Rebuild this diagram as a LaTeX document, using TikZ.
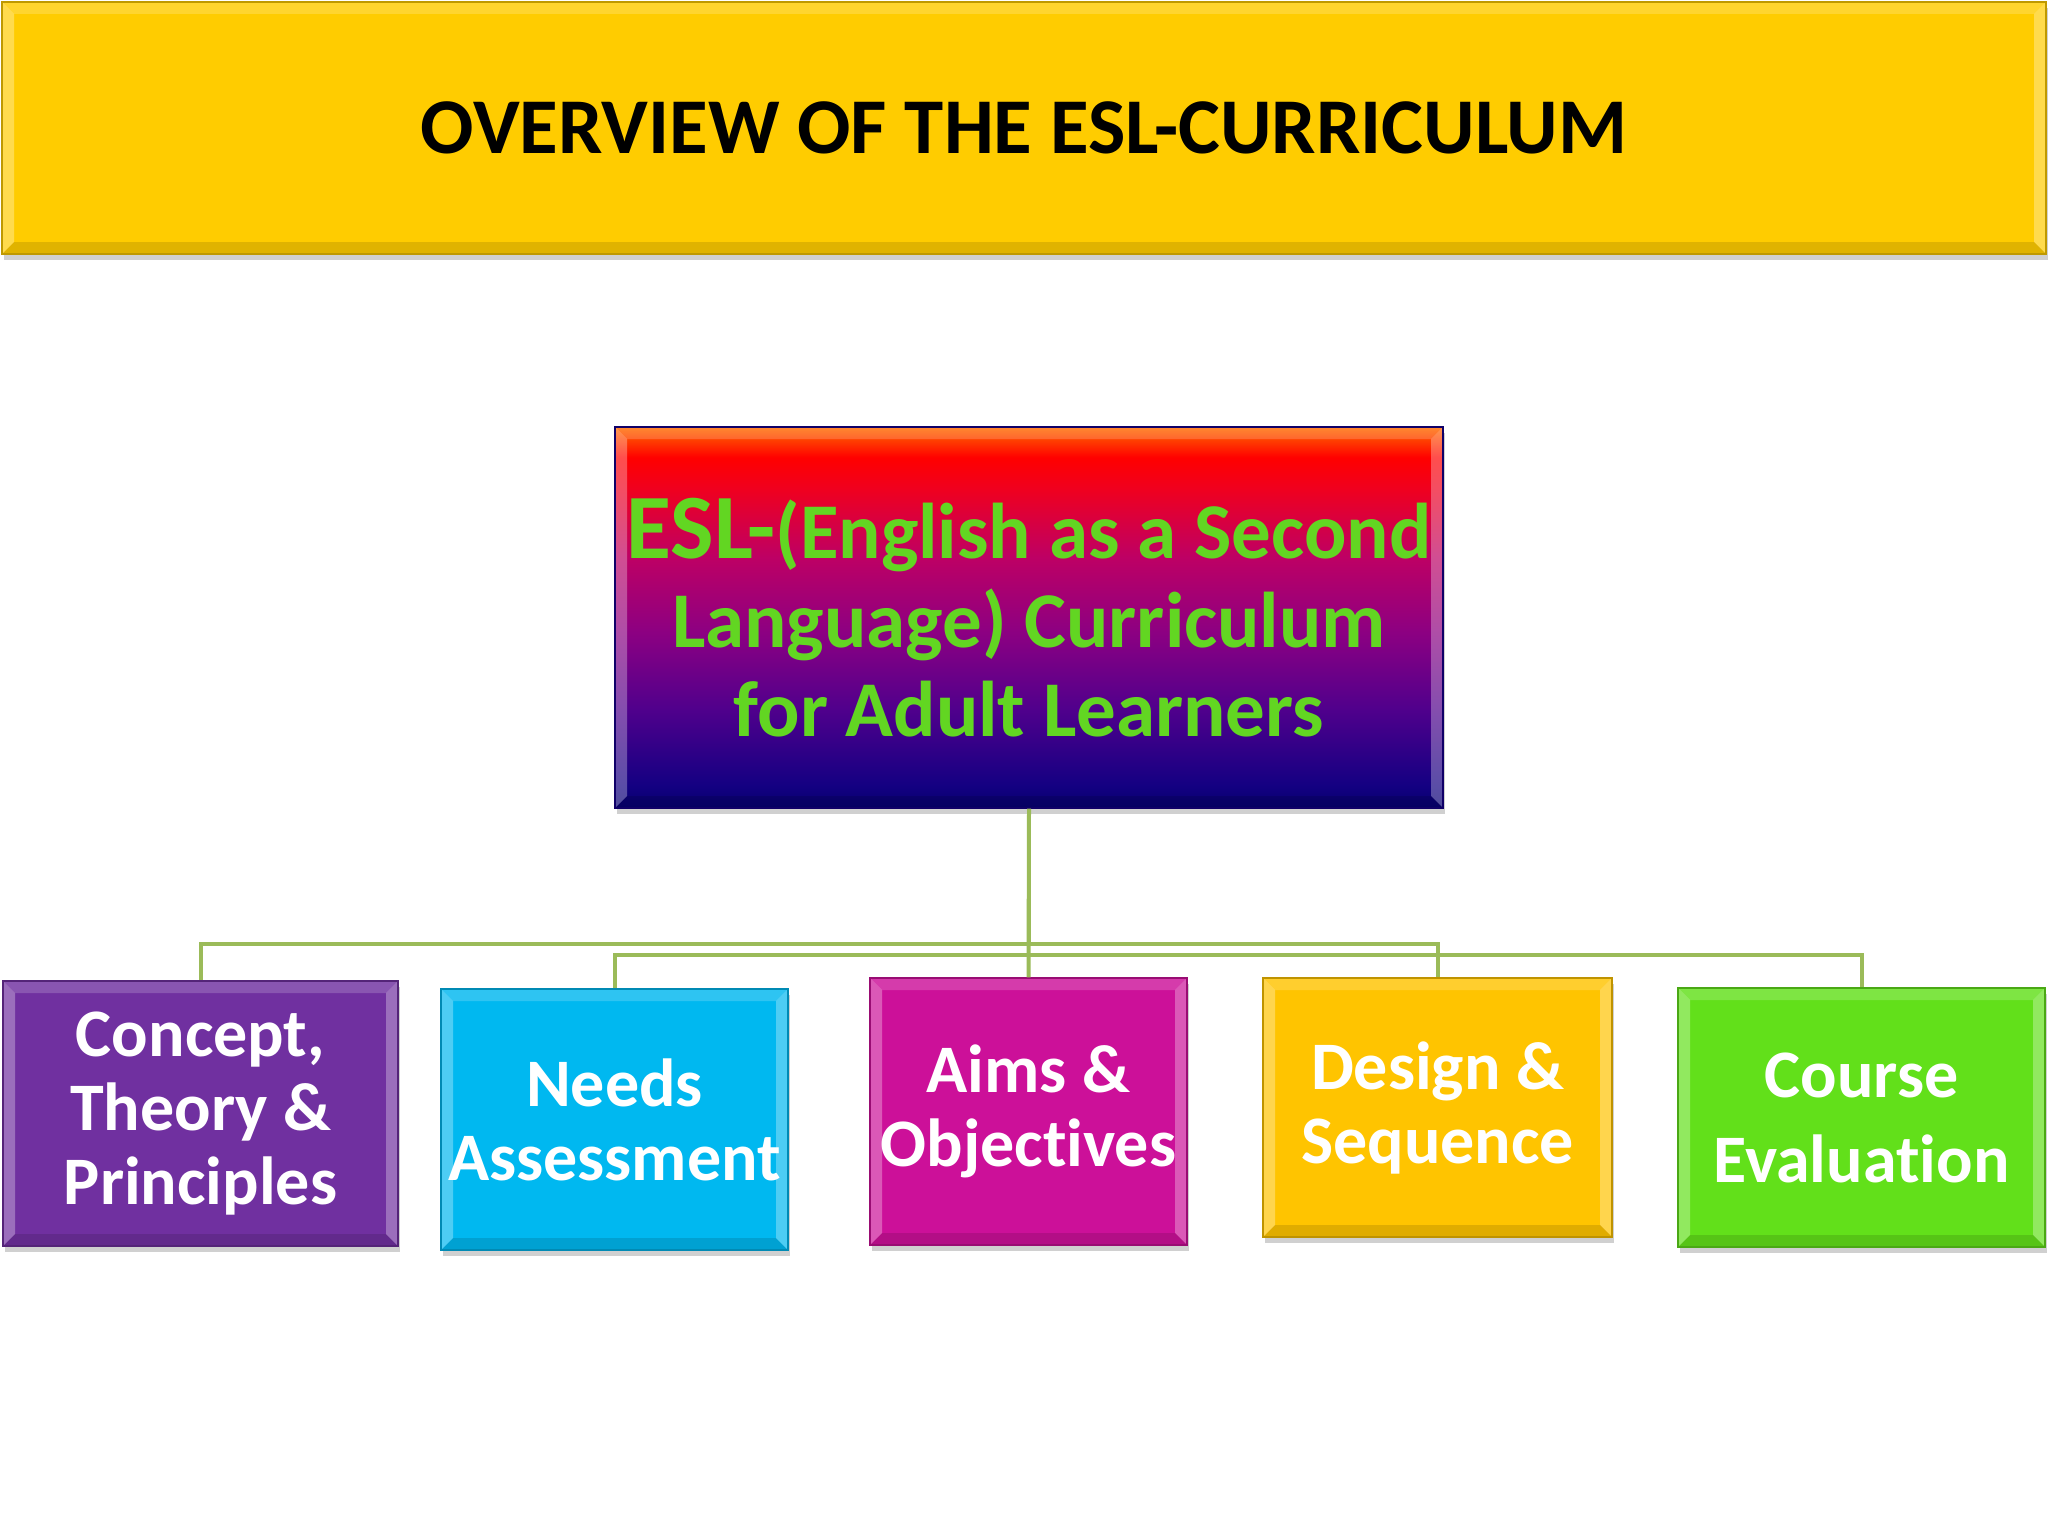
\documentclass[tikz,border=0pt]{standalone}
\usepackage{fontspec}
\setmainfont{Carlito}[RawFeature=-liga]
\usetikzlibrary{shadows}

\definecolor{bandgold}{RGB}{255,204,0}
\definecolor{conceptpurple}{RGB}{112,48,160}
\definecolor{needscyan}{RGB}{0,184,240}
\definecolor{aimsmagenta}{RGB}{204,16,153}
\definecolor{designgold}{RGB}{255,196,0}
\definecolor{coursegreen}{RGB}{98,224,26}
\definecolor{eslgreen}{RGB}{98,214,34}
\definecolor{linkolive}{RGB}{155,187,89}
\definecolor{eslTop}{RGB}{255,110,0}
\definecolor{eslRed}{RGB}{255,0,0}
\definecolor{eslA}{RGB}{240,0,30}
\definecolor{eslB}{RGB}{190,0,100}
\definecolor{eslC}{RGB}{140,0,130}
\definecolor{eslD}{RGB}{80,0,140}
\definecolor{eslE}{RGB}{20,0,130}
\definecolor{eslF}{RGB}{5,0,110}

\pgfdeclareverticalshading{eslshade}{100bp}{color(0bp)=(eslF); color(25bp)=(eslF); color(28bp)=(eslE); color(38bp)=(eslD); color(48bp)=(eslC); color(58bp)=(eslB); color(67bp)=(eslA); color(71bp)=(eslRed); color(75bp)=(eslTop); color(100bp)=(eslTop)}

\tikzset{every picture/.style={line width=0.75pt}}

\tikzset{
  bevel/.style={path picture={
    \fill[white,opacity=.30] (path picture bounding box.north west) -- ([shift={(6pt,-6pt)}]path picture bounding box.north west) -- ([shift={(6pt,6pt)}]path picture bounding box.south west) -- (path picture bounding box.south west) -- cycle;
    \fill[white,opacity=.30] (path picture bounding box.north east) -- ([shift={(-6pt,-6pt)}]path picture bounding box.north east) -- ([shift={(-6pt,6pt)}]path picture bounding box.south east) -- (path picture bounding box.south east) -- cycle;
    \fill[black,opacity=.12] (path picture bounding box.south west) -- ([shift={(6pt,6pt)}]path picture bounding box.south west) -- ([shift={(-6pt,6pt)}]path picture bounding box.south east) -- (path picture bounding box.south east) -- cycle;
    \fill[white,opacity=.18] (path picture bounding box.north west) -- ([shift={(6pt,-6pt)}]path picture bounding box.north west) -- ([shift={(-6pt,-6pt)}]path picture bounding box.north east) -- (path picture bounding box.north east) -- cycle;
  }},
  box/.style={draw=#1!75!black, fill=#1, line width=0.6pt, inner sep=2pt, align=center, text=white, bevel,
    drop shadow={shadow xshift=1pt, shadow yshift=-3pt, opacity=.3, fill=black!60}},
  kidfont/.style={font=\fontsize{34}{37}\selectfont\bfseries},
  link/.style={draw=linkolive, line width=2pt}
}

\begin{document}
\begin{tikzpicture}[x=0.5pt,y=0.5pt,yscale=-1,xscale=1]
\useasboundingbox[fill=white] (0,0) rectangle (2048,1536);

%Title band
\node[box=bandgold, text=black, minimum width=1022pt, minimum height=126pt, font=\fontsize{39.5}{44}\selectfont\bfseries, drop shadow={opacity=0}] (title) at (1024,128) {OVERVIEW OF THE ESL-CURRICULUM};

%Top box
\node[draw=eslE!80!black, line width=0.6pt, shading=eslshade, shade, bevel, inner sep=2pt, align=center, text=eslgreen,
  minimum width=414pt, minimum height=190.5pt, font=\fontsize{39.5}{44.5}\selectfont\bfseries,
  drop shadow={shadow xshift=1pt, shadow yshift=-3pt, opacity=.3, fill=black!60}] (esl) at (1029,617.5)
  {{\fontsize{46}{44.5}\selectfont ESL-}(English as a Second\\Language) Curriculum\\for Adult Learners};

%Child boxes
\node[box=conceptpurple, kidfont, minimum width=197.5pt, minimum height=132.5pt] (concept) at (200.5,1113.5) {Concept,\\Theory \&\\Principles};
\node[box=needscyan, kidfont, minimum width=173.5pt, minimum height=130.5pt] (needs) at (614.5,1119.5) {Needs\\Assessment};
\node[box=aimsmagenta, kidfont, minimum width=158.5pt, minimum height=133.5pt] (aims) at (1028.5,1111.5) {Aims \&\\Objectives};
\node[box=designgold, kidfont, minimum width=174.5pt, minimum height=129.5pt] (design) at (1437.5,1107.5) {Design \&\\Sequence};
\node[box=coursegreen, font=\fontsize{34}{42.5}\selectfont\bfseries, minimum width=183.5pt, minimum height=129.5pt] (course) at (1861.5,1117.5) {Course\\Evaluation};

%Connectors
\coordinate (busA) at (1029,944);
\coordinate (busB) at (1029,955);
\draw[link] (esl.south) -- (aims.north);
\draw[link] (esl.south) -- (busA) -| (concept.north);
\draw[link] (busA) -| (design.north);
\draw[link] (busB) -| (needs.north);
\draw[link] (busB) -| (course.north);

\end{tikzpicture}
\end{document}
